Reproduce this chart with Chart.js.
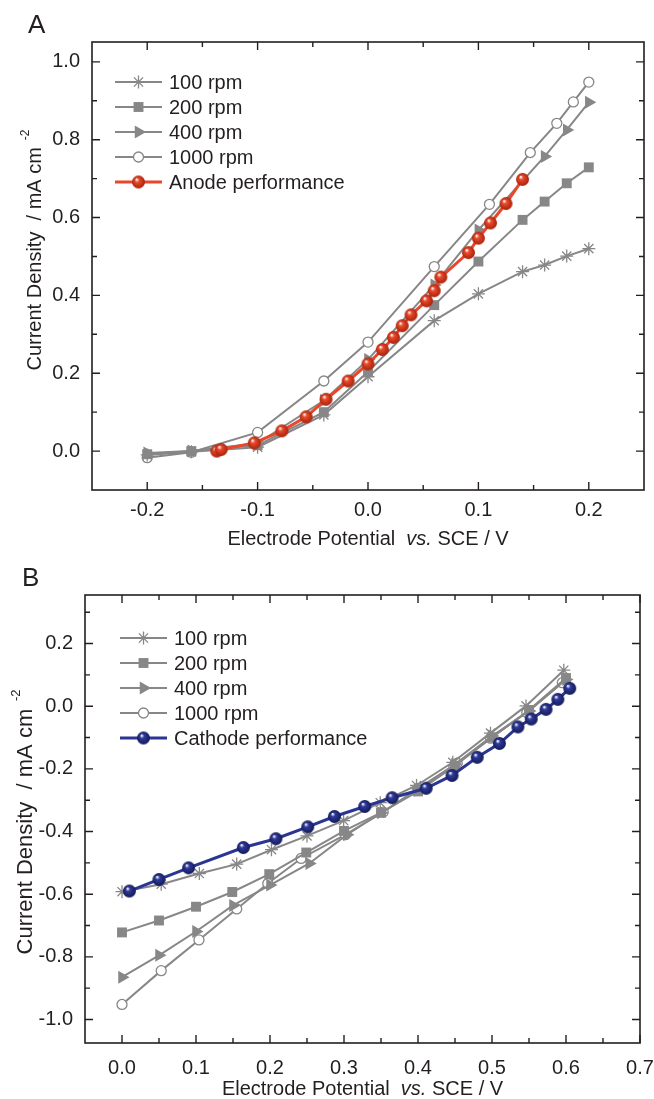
<!DOCTYPE html>
<html>
<head>
<meta charset="utf-8">
<script src="https://cdn.jsdelivr.net/npm/chart.js@4.4.1/dist/chart.umd.min.js"></script>
<style>
  html, body { margin: 0; padding: 0; background: #fff; }
  #wrap { position: relative; width: 654px; height: 1099px; }
  .panel { position: absolute; left: 0; width: 654px; }
  #boxA { top: 0; height: 560px; }
  #boxB { top: 560px; height: 539px; }
</style>
</head>
<body>
<div id="wrap">
  <div class="panel" id="boxA"><canvas id="chartA"></canvas></div>
  <div class="panel" id="boxB"><canvas id="chartB"></canvas></div>
</div>
<script>
// ---- Panel A: anode (potential V vs SCE, current density mA cm-2) ----
const aX100 = [-0.2, -0.16, -0.1, -0.04, 0, 0.06, 0.1, 0.14, 0.16, 0.18, 0.2];
const aY100 = [-0.01, -0.002, 0.01, 0.093, 0.191, 0.335, 0.404, 0.461, 0.478, 0.501, 0.52];
const aX200 = [-0.2, -0.16, -0.1, -0.04, 0, 0.06, 0.1, 0.14, 0.16, 0.18, 0.2];
const aY200 = [-0.008, 0.0, 0.015, 0.1, 0.204, 0.375, 0.487, 0.594, 0.641, 0.688, 0.729];
const aX400 = [-0.2, -0.16, -0.1, -0.04, 0, 0.06, 0.1, 0.16, 0.18, 0.2];
const aY400 = [-0.005, 0.0, 0.02, 0.13, 0.235, 0.427, 0.568, 0.757, 0.825, 0.896];
const aX1000 = [-0.2, -0.16, -0.1, -0.04, 0, 0.06, 0.11, 0.147, 0.171, 0.186, 0.2];
const aY1000 = [-0.017, -0.003, 0.048, 0.18, 0.28, 0.474, 0.634, 0.767, 0.842, 0.897, 0.948];
const anodeX = [-0.137, -0.133, -0.103, -0.078, -0.056, -0.038, -0.018, 0.0, 0.013, 0.023,
                0.031, 0.039, 0.053, 0.06, 0.066, 0.091, 0.1, 0.111, 0.125, 0.14];
const anodeY = [0.0, 0.004, 0.021, 0.052, 0.088, 0.133, 0.18, 0.224, 0.261, 0.292,
                0.322, 0.35, 0.386, 0.412, 0.447, 0.51, 0.547, 0.586, 0.636, 0.698];
const aXTicks = [-0.2, -0.1, 0.0, 0.1, 0.2];
const aXTickLabels = ['-0.2', '-0.1', '0.0', '0.1', '0.2'];
const aYTicks = [0.0, 0.2, 0.4, 0.6, 0.8, 1.0];
const aYTickLabels = ['0.0', '0.2', '0.4', '0.6', '0.8', '1.0'];

// ---- Panel B: cathode ----
const bX100 = [0, 0.053, 0.1045, 0.155, 0.202, 0.25, 0.2995, 0.349, 0.398, 0.447, 0.498, 0.546, 0.597];
const bY100 = [-0.592, -0.568, -0.534, -0.504, -0.458, -0.414, -0.365, -0.308, -0.253, -0.179, -0.086, 0.001, 0.115];
const bX200 = [0, 0.05, 0.1, 0.149, 0.199, 0.249, 0.3, 0.35, 0.4, 0.45, 0.5, 0.55, 0.6];
const bY200 = [-0.722, -0.684, -0.64, -0.593, -0.536, -0.467, -0.398, -0.34, -0.272, -0.19, -0.1, -0.012, 0.09];
const bX400 = [0, 0.05, 0.1, 0.15, 0.2, 0.253, 0.304, 0.35, 0.4, 0.45, 0.5, 0.55, 0.6];
const bY400 = [-0.865, -0.795, -0.719, -0.636, -0.571, -0.502, -0.41, -0.34, -0.268, -0.185, -0.095, -0.015, 0.085];
const bX1000 = [0, 0.053, 0.104, 0.155, 0.197, 0.242, 0.302, 0.353, 0.4, 0.453, 0.498, 0.547, 0.595];
const bY1000 = [-0.952, -0.844, -0.746, -0.647, -0.566, -0.486, -0.41, -0.338, -0.262, -0.182, -0.102, -0.02, 0.075];
const cathodeX = [0.01, 0.05, 0.09, 0.164, 0.208, 0.251, 0.287, 0.328, 0.365, 0.411,
                  0.446, 0.48, 0.51, 0.535, 0.553, 0.573, 0.589, 0.605];
const cathodeY = [-0.59, -0.553, -0.516, -0.451, -0.423, -0.385, -0.352, -0.32, -0.292, -0.262,
                  -0.221, -0.163, -0.119, -0.066, -0.041, -0.01, 0.022, 0.057];
const bXTicks = [0.0, 0.1, 0.2, 0.3, 0.4, 0.5, 0.6, 0.7];
const bXTickLabels = ['0.0', '0.1', '0.2', '0.3', '0.4', '0.5', '0.6', '0.7'];
const bYTicks = [-1.0, -0.8, -0.6, -0.4, -0.2, 0.0, 0.2];
const bYTickLabels = ['-1.0', '-0.8', '-0.6', '-0.4', '-0.2', '0.0', '0.2'];

const GRAY = '#878787';
const INK = '#231f20';
const FONT = '"Liberation Sans", Arial, sans-serif';

const pts = (xs, ys) => xs.map((x, i) => ({ x: x, y: ys[i] }));

// little shaded ball used as the marker of the performance curves
function sphere(base, dark, r) {
  const c = document.createElement('canvas');
  const s = Math.ceil(r * 2 + 2);
  c.width = c.height = s;
  const g = c.getContext('2d');
  const m = s / 2;
  const grad = g.createRadialGradient(m - r * 0.3, m - r * 0.4, r * 0.05, m, m, r);
  grad.addColorStop(0, '#ffffff');
  grad.addColorStop(0.3, base);
  grad.addColorStop(1, dark);
  g.fillStyle = grad;
  g.beginPath();
  g.arc(m, m, r, 0, Math.PI * 2);
  g.fill();
  return c;
}

function grayDatasets(x100, y100, x200, y200, x400, y400, x1000, y1000) {
  const base = { borderColor: GRAY, borderWidth: 2, pointBorderColor: GRAY, tension: 0, order: 2 };
  return [
    Object.assign({}, base, { label: '100 rpm', data: pts(x100, y100), pointStyle: 'star',
      pointRadius: 6.5, pointBorderWidth: 1.3, pointBackgroundColor: GRAY }),
    Object.assign({}, base, { label: '200 rpm', data: pts(x200, y200), pointStyle: 'rect',
      pointRadius: 7, pointBorderWidth: 0, pointBackgroundColor: GRAY }),
    Object.assign({}, base, { label: '400 rpm', data: pts(x400, y400), pointStyle: 'triangle',
      pointRotation: 90, pointRadius: 7.5, pointBorderWidth: 0, pointBackgroundColor: GRAY }),
    Object.assign({}, base, { label: '1000 rpm', data: pts(x1000, y1000), pointStyle: 'circle',
      pointRadius: 5, pointBorderWidth: 1.3, pointBackgroundColor: '#ffffff' })
  ];
}

function minorTicks(majors, min, max) {
  const step = majors[1] - majors[0];
  const out = [];
  const first = majors[0] - step / 2;
  if (first > min + 1e-9) out.push(first);
  majors.forEach(v => { const m = v + step / 2; if (m < max - 1e-9) out.push(m); });
  return out;
}

// frame, inward ticks on four sides, titles, panel letter and line+marker legend
const decorPlugin = {
  id: 'decor',
  afterDatasetsDraw(chart, args, o) {
    const { ctx, chartArea: a, scales: { x, y } } = chart;
    ctx.save();
    ctx.strokeStyle = INK;
    ctx.lineWidth = 1.6;
    ctx.strokeRect(a.left, a.top, a.right - a.left, a.bottom - a.top);
    const xMaj = x.ticks.map(t => t.value), yMaj = y.ticks.map(t => t.value);
    const xMin = minorTicks(xMaj, x.min, x.max), yMin = minorTicks(yMaj, y.min, y.max);
    ctx.lineWidth = 1.4;
    ctx.beginPath();
    const vx = (vals, len) => vals.forEach(v => {
      const px = x.getPixelForValue(v);
      ctx.moveTo(px, a.bottom); ctx.lineTo(px, a.bottom - len);
      ctx.moveTo(px, a.top); ctx.lineTo(px, a.top + len);
    });
    const vy = (vals, len) => vals.forEach(v => {
      const py = y.getPixelForValue(v);
      ctx.moveTo(a.left, py); ctx.lineTo(a.left + len, py);
      ctx.moveTo(a.right, py); ctx.lineTo(a.right - len, py);
    });
    vx(xMaj, 8); vx(xMin, 5); vy(yMaj, 8); vy(yMin, 5);
    ctx.stroke();

    // panel letter
    ctx.fillStyle = INK;
    ctx.font = '26px ' + FONT;
    ctx.textAlign = 'left';
    ctx.textBaseline = 'middle';
    ctx.fillText(o.letter, o.letterX, o.letterY);

    // x title with italic "vs."
    ctx.font = '20px ' + FONT;
    const p1 = 'Electrode Potential  ', p3 = ' SCE / V';
    const w1 = ctx.measureText(p1).width, w3 = ctx.measureText(p3).width;
    ctx.font = 'italic 20px ' + FONT;
    const w2 = ctx.measureText('vs.').width;
    let sx = (a.left + a.right) / 2 - (w1 + w2 + w3) / 2;
    ctx.font = '20px ' + FONT;
    ctx.fillText(p1, sx, o.xTitleY);
    ctx.font = 'italic 20px ' + FONT;
    ctx.fillText('vs.', sx + w1, o.xTitleY);
    ctx.font = '20px ' + FONT;
    ctx.fillText(p3, sx + w1 + w2, o.xTitleY);

    // y title with superscript
    ctx.save();
    ctx.translate(o.yTitleX, o.yTitleY);
    ctx.rotate(-Math.PI / 2);
    ctx.font = o.yTitleSize + 'px ' + FONT;
    const main = 'Current Density  / mA cm';
    const wm = ctx.measureText(main).width;
    ctx.font = Math.round(o.yTitleSize * 0.6) + 'px ' + FONT;
    const ws = ctx.measureText('-2').width;
    const gap = o.yTitleSize * 0.35;
    const x0 = -(wm + gap + ws) / 2;
    ctx.font = o.yTitleSize + 'px ' + FONT;
    ctx.fillText(main, x0, 0);
    ctx.font = Math.round(o.yTitleSize * 0.6) + 'px ' + FONT;
    ctx.fillText('-2', x0 + wm + gap, -o.yTitleSize * 0.45);
    ctx.restore();

    // legend
    chart.data.datasets.forEach((ds, i) => {
      const ly = o.legY + i * 25;
      const lx0 = o.legX, lx1 = o.legX + 47;
      ctx.strokeStyle = ds.borderColor;
      ctx.lineWidth = ds.borderWidth;
      ctx.beginPath();
      ctx.moveTo(lx0, ly); ctx.lineTo(lx1, ly);
      ctx.stroke();
      ctx.fillStyle = ds.pointBackgroundColor;
      ctx.strokeStyle = ds.pointBorderColor;
      ctx.lineWidth = ds.pointBorderWidth;
      Chart.helpers.drawPoint(ctx, {
        pointStyle: ds.pointStyle, radius: ds.pointRadius,
        rotation: ds.pointRotation || 0, borderWidth: ds.pointBorderWidth
      }, (lx0 + lx1) / 2, ly);
      ctx.fillStyle = INK;
      ctx.font = '20px ' + FONT;
      ctx.textAlign = 'left';
      ctx.textBaseline = 'middle';
      ctx.fillText(ds.label, lx1 + 7, ly + 1);
    });
    ctx.restore();
  }
};

function scales(xmin, xmax, xTicks, xLabels, ymin, ymax, yTicks, yLabels, yw, xh, xpad) {
  return {
    x: {
      type: 'linear', position: 'bottom', min: xmin, max: xmax,
      afterBuildTicks: s => { s.ticks = xTicks.map(v => ({ value: v })); },
      // fixed height, and no extra room for the end labels so the plot keeps its width
      afterFit: s => { s.height = xh; s.paddingLeft = 0; s.paddingRight = 0; },
      grid: { display: false, drawTicks: false },
      border: { display: false },
      ticks: { autoSkip: false, maxRotation: 0, padding: xpad, color: INK,
        font: { family: FONT, size: 20 }, callback: (v, i) => xLabels[i] }
    },
    y: {
      type: 'linear', min: ymin, max: ymax,
      afterBuildTicks: s => { s.ticks = yTicks.map(v => ({ value: v })); },
      afterFit: s => { s.width = yw; s.paddingTop = 0; s.paddingBottom = 0; },
      grid: { display: false, drawTicks: false },
      border: { display: false },
      ticks: { autoSkip: false, padding: 12, color: INK,
        font: { family: FONT, size: 20 }, callback: (v, i) => yLabels[i] }
    }
  };
}

const redBall = sphere('#ea4a2b', '#a8220c', 6.5);
const blueBall = sphere('#2f3a9c', '#141a55', 6.5);

new Chart(document.getElementById('chartA'), {
  type: 'line',
  data: {
    datasets: grayDatasets(aX100, aY100, aX200, aY200, aX400, aY400, aX1000, aY1000).concat([{
      label: 'Anode performance', data: pts(anodeX, anodeY), borderColor: '#e8472b', borderWidth: 3,
      pointStyle: redBall, pointRadius: 6.5, pointBorderWidth: 0, pointBorderColor: '#e8472b',
      pointBackgroundColor: '#e8472b', tension: 0, order: 0
    }])
  },
  options: {
    responsive: true, maintainAspectRatio: false, animation: false,
    layout: { padding: { left: 0, right: 10, top: 42, bottom: 0 } },
    scales: scales(-0.25, 0.25, aXTicks, aXTickLabels, -0.1, 1.051, aYTicks, aYTickLabels, 92, 70, 8),
    plugins: {
      legend: { display: false }, tooltip: { enabled: false },
      decor: { letter: 'A', letterX: 28, letterY: 26, xTitleY: 539,
        yTitleX: 35, yTitleY: 250, yTitleSize: 20, legX: 115, legY: 82 }
    }
  },
  plugins: [decorPlugin]
});

new Chart(document.getElementById('chartB'), {
  type: 'line',
  data: {
    datasets: grayDatasets(bX100, bY100, bX200, bY200, bX400, bY400, bX1000, bY1000).concat([{
      label: 'Cathode performance', data: pts(cathodeX, cathodeY), borderColor: '#2b3592', borderWidth: 3,
      pointStyle: blueBall, pointRadius: 6.5, pointBorderWidth: 0, pointBorderColor: '#2b3592',
      pointBackgroundColor: '#2b3592', tension: 0, order: 0
    }])
  },
  options: {
    responsive: true, maintainAspectRatio: false, animation: false,
    layout: { padding: { left: 0, right: 14, top: 35, bottom: 0 } },
    scales: scales(-0.05, 0.7, bXTicks, bXTickLabels, -1.075, 0.355, bYTicks, bYTickLabels, 85, 56, 13),
    plugins: {
      legend: { display: false }, tooltip: { enabled: false },
      decor: { letter: 'B', letterX: 22, letterY: 19, xTitleY: 529,
        yTitleX: 26, yTitleY: 262, yTitleSize: 22, legX: 120, legY: 78 }
    }
  },
  plugins: [decorPlugin]
});
</script>
</body>
</html>
